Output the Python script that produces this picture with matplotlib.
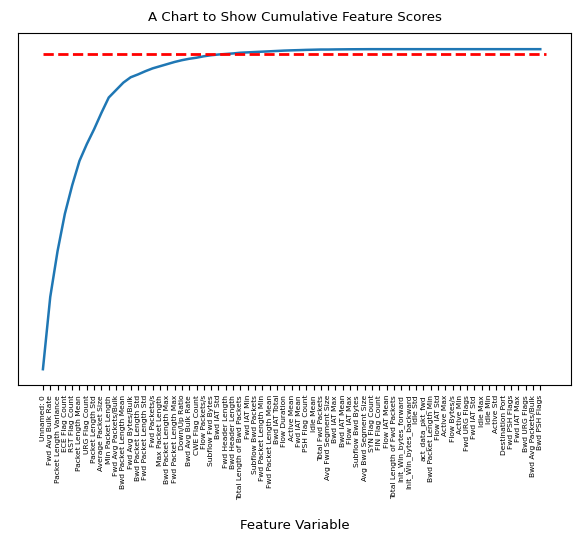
import matplotlib
matplotlib.use("Agg")
import matplotlib.pyplot as plt

features = [
    "Unnamed: 0", "Fwd Avg Bulk Rate", "Packet Length Variance", "ECE Flag Count",
    "RST Flag Count", "Packet Length Mean", "URG Flag Count", "Packet Length Std",
    "Average Packet Size", "Min Packet Length", "Fwd Avg Packets/Bulk",
    "Bwd Packet Length Mean", "Fwd Avg Bytes/Bulk", "Bwd Packet Length Std",
    "Fwd Packet Length Std", "Fwd Packets/s", "Max Packet Length",
    "Bwd Packet Length Max", "Fwd Packet Length Max", "Down/Up Ratio",
    "Bwd Avg Bulk Rate", "CWE Flag Count", "Flow Packets/s", "Subflow Fwd Bytes",
    "Bwd IAT Std", "Fwd Header Length", "Bwd Header Length",
    "Total Length of Bwd Packets", "Fwd IAT Min", "Subflow Bwd Packets",
    "Fwd Packet Length Min", "Fwd Packet Length Mean", "Bwd IAT Total",
    "Flow Duration", "Active Mean", "Fwd IAT Mean", "PSH Flag Count", "Idle Mean",
    "Total Fwd Packets", "Avg Fwd Segment Size", "Bwd IAT Max", "Bwd IAT Mean",
    "Flow IAT Max", "Subflow Bwd Bytes", "Avg Bwd Segment Size", "SYN Flag Count",
    "FIN Flag Count", "Flow IAT Mean", "Total Length of Fwd Packets",
    "Init_Win_bytes_forward", "Init_Win_bytes_backward", "Idle Std",
    "act_data_pkt_fwd", "Bwd Packet Length Min", "Flow IAT Std", "Active Max",
    "Flow Bytes/s", "Active Min", "Fwd URG Flags", "Fwd IAT Std", "Idle Max",
    "Idle Min", "Active Std", "Destination Port", "Fwd PSH Flags", "Fwd IAT Max",
    "Bwd URG Flags", "Bwd Avg Packets/Bulk", "Bwd PSH Flags",
]

cumulative_scores = [
    0.100, 0.303, 0.432, 0.537, 0.617, 0.686, 0.733, 0.775, 0.821, 0.864,
    0.885, 0.906, 0.921, 0.929, 0.938, 0.946, 0.952, 0.958, 0.964, 0.969,
    0.973, 0.976, 0.980, 0.983, 0.985, 0.9865, 0.988, 0.990, 0.991, 0.992,
    0.993, 0.994, 0.995, 0.996, 0.9967, 0.9973, 0.998, 0.9985, 0.999, 0.999,
    0.9993, 0.9995, 0.9997, 0.9998, 0.9999, 1.0, 1.0, 1.0, 1.0, 1.0,
    1.0, 1.0, 1.0, 1.0, 1.0, 1.0, 1.0, 1.0, 1.0, 1.0,
    1.0, 1.0, 1.0, 1.0, 1.0, 1.0, 1.0, 1.0, 1.0,
]

threshold = 0.986

fig = plt.figure(figsize=(5.73, 5.35), dpi=100)
ax = fig.add_axes([0.031, 0.28, 0.966, 0.658])

ax.plot(features, cumulative_scores, color="#1f77b4", linewidth=1.8)
ax.hlines(threshold, 0, len(features) - 0.2, colors="red", linestyles="--", linewidth=2)

ax.set_title("A Chart to Show Cumulative Feature Scores", fontsize=9.6, pad=9)
ax.set_xlabel("Feature Variable", fontsize=9.6, labelpad=14)
ax.set_yticks([])
plt.xticks(rotation=90, fontsize=5.4)

fig.savefig("out.png", dpi=100)
